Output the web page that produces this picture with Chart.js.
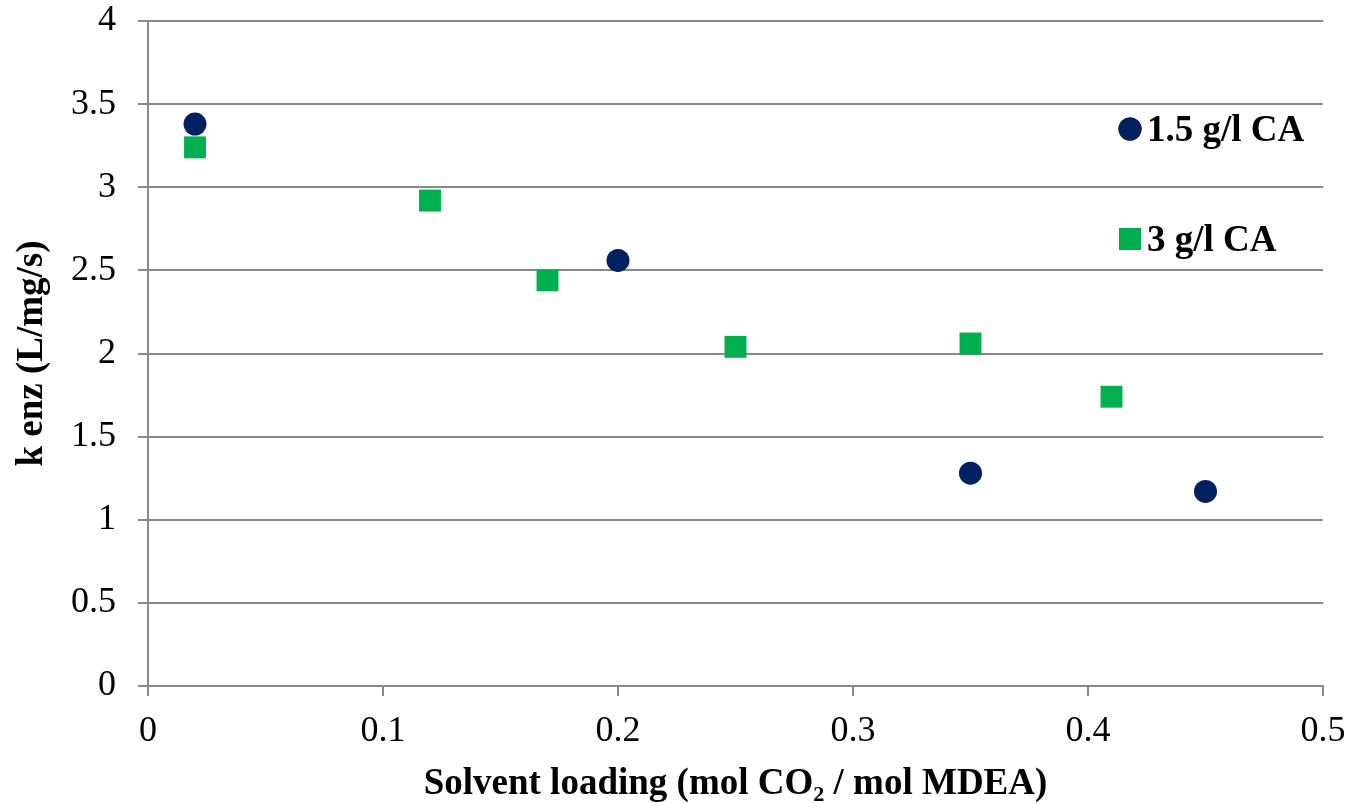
<!DOCTYPE html>
<html>
<head>
<meta charset="utf-8">
<script src="https://cdn.jsdelivr.net/npm/chart.js@4"></script>
<style>
    body { margin: 0; background: #fff; }
    #wrap { width: 1349px; height: 803px; position: relative; }
</style>
</head>
<body>
<div id="wrap"><canvas id="chartLoading"></canvas></div>
<script>
    // values
    const seriesLabels = ["1.5 g/l CA", "3 g/l CA"];
    const loadingLow = [0.02, 0.2, 0.35, 0.45];
    const kenzLow = [3.38, 2.56, 1.28, 1.17];
    const loadingHigh = [0.02, 0.12, 0.17, 0.25, 0.35, 0.41];
    const kenzHigh = [3.24, 2.92, 2.44, 2.04, 2.06, 1.74];
    const xTicks = [0, 0.1, 0.2, 0.3, 0.4, 0.5];
    const yTicks = [0, 0.5, 1, 1.5, 2, 2.5, 3, 3.5, 4];

    const navy = "#002060";
    const green = "#00B050";
    const gridGrey = "#898989";
    const serif = "'Liberation Serif', 'Times New Roman', serif";

    function toPoints(xs, ys) {
        return xs.map((x, i) => ({ x: x, y: ys[i] }));
    }

    // legend drawn inside the plot on the right
    const sideLegend = {
        id: "sideLegend",
        afterDraw(chart) {
            const ctx = chart.ctx;
            const area = chart.chartArea;
            const rows = [area.top + 108, area.top + 218];
            ctx.save();
            ctx.font = "bold 37px " + serif;
            ctx.textBaseline = "middle";
            chart.data.datasets.forEach((ds, i) => {
                const y = rows[i];
                const x = 1130;
                Chart.helpers.drawPoint(ctx, {
                    pointStyle: ds.pointStyle,
                    radius: ds.pointRadius,
                    borderWidth: 0
                }, x, y);
                ctx.fillStyle = ds.backgroundColor;
                ctx.fill();
                ctx.fillStyle = "#000";
                ctx.fillText(ds.label, 1147, y + 2);
            });
            ctx.restore();
        }
    };

    new Chart(document.getElementById("chartLoading").getContext("2d"), {
        type: "scatter",
        data: {
            datasets: [
                {
                    label: seriesLabels[0],
                    data: toPoints(loadingLow, kenzLow),
                    pointStyle: "circle",
                    pointRadius: 11.5,
                    pointHoverRadius: 11.5,
                    backgroundColor: navy,
                    borderColor: navy,
                    borderWidth: 0
                },
                {
                    label: seriesLabels[1],
                    data: toPoints(loadingHigh, kenzHigh),
                    pointStyle: "rect",
                    pointRadius: 15.5,
                    pointHoverRadius: 15.5,
                    backgroundColor: green,
                    borderColor: green,
                    borderWidth: 0
                }
            ]
        },
        options: {
            responsive: true,
            maintainAspectRatio: false,
            animation: false,
            layout: { padding: { top: 21, right: 26, left: 0, bottom: 0 } },
            plugins: {
                legend: { display: false },
                tooltip: { enabled: false }
            },
            scales: {
                x: {
                    type: "linear",
                    min: 0,
                    max: 0.5,
                    afterBuildTicks(scale) {
                        scale.ticks = xTicks.map(v => ({ value: v }));
                    },
                    afterFit(scale) {
                        scale.height = 117;
                        scale.paddingLeft = 0;
                        scale.paddingRight = 0;
                    },
                    grid: {
                        drawOnChartArea: false,
                        drawTicks: true,
                        tickLength: 10,
                        color: gridGrey,
                        lineWidth: 2
                    },
                    border: { display: true, color: gridGrey, width: 2 },
                    ticks: {
                        color: "#000",
                        padding: 14,
                        font: { family: serif, size: 36 },
                        callback: v => String(v)
                    },
                    title: {
                        display: true,
                        text: "Solvent loading (mol CO\u2082 / mol MDEA)",
                        color: "#000",
                        font: { family: serif, size: 37, weight: "bold" },
                        padding: { top: 0, bottom: -4 }
                    }
                },
                y: {
                    min: 0,
                    max: 4,
                    afterBuildTicks(scale) {
                        scale.ticks = yTicks.map(v => ({ value: v }));
                    },
                    afterFit(scale) {
                        scale.width = 148;
                        scale.paddingTop = 0;
                        scale.paddingBottom = 0;
                    },
                    grid: {
                        drawTicks: true,
                        tickLength: 10,
                        color: gridGrey,
                        lineWidth: 2
                    },
                    border: { display: true, color: gridGrey, width: 2 },
                    ticks: {
                        color: "#000",
                        padding: 22,
                        font: { family: serif, size: 36 },
                        callback: v => String(v)
                    },
                    title: {
                        display: true,
                        text: "k enz (L/mg/s)",
                        color: "#000",
                        font: { family: serif, size: 37, weight: "bold" },
                        padding: { top: 10, bottom: 0 }
                    }
                }
            }
        },
        plugins: [sideLegend]
    });
</script>
</body>
</html>
